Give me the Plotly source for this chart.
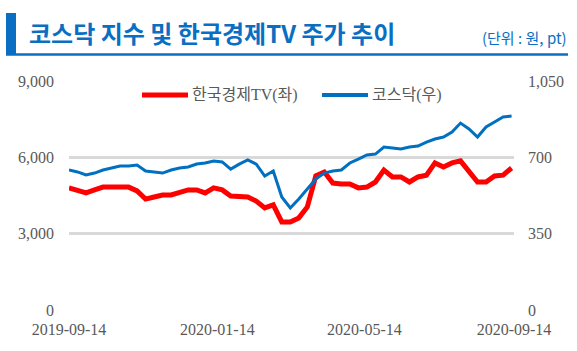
import plotly.graph_objects as go
import pandas as pd

dates = pd.date_range("2019-09-14", periods=53, freq="7D")

hktv = [4800, 4720, 4600, 4720, 4830, 4830, 4830, 4830, 4680, 4360,
        4440, 4520, 4520, 4640, 4720, 4720, 4600, 4800, 4720, 4480,
        4440, 4440, 4280, 4010, 4130, 3460, 3460, 3620, 4050, 5270,
        5420, 4990, 4950, 4950, 4800, 4830, 5030, 5500, 5230, 5230,
        5030, 5230, 5300, 5780, 5620, 5780, 5860, 5420, 5030, 5030,
        5270, 5300, 5580]

kosdaq = [642, 633, 619, 628, 642, 651, 660, 660, 665, 637,
          633, 628, 642, 651, 656, 669, 674, 683, 679, 646,
          669, 688, 669, 614, 637, 518, 468, 509, 555, 601,
          628, 637, 642, 674, 692, 711, 715, 747, 743, 738,
          747, 752, 770, 784, 793, 816, 857, 830, 793, 839,
          862, 885, 889]

x_ticks = ["2019-09-14", "2020-01-14", "2020-05-14", "2020-09-14"]
left_ticks = [0, 3000, 6000, 9000]
right_ticks = [0, 350, 700, 1050]

title_text = "코스닥 지수 및 한국경제TV 주가 추이"
unit_text = "(단위 : 원, pt)"
legend_names = ["한국경제TV(좌)", "코스닥(우)"]

BLUE = "#0A6EC2"
RED = "#FF0000"
LBLUE = "#0070C0"
GRID = "#D9D9D9"
TICKC = "#595959"
serif = "Liberation Serif, DejaVu Serif, Noto Sans CJK KR"
sans = "Noto Sans CJK KR, Noto Sans"

# plot area in pixels
PL, PR, PT, PB = 69, 514, 81, 310
PW, PH = PR - PL, PB - PT


def px(x):
    return (x - PL) / PW


def py(y):
    return (PB - y) / PH


fig = go.Figure()
fig.add_trace(go.Scatter(x=dates, y=hktv, name=legend_names[0], mode="lines",
                         line=dict(color=RED, width=5), yaxis="y"))
fig.add_trace(go.Scatter(x=dates, y=kosdaq, name=legend_names[1], mode="lines",
                         line=dict(color=LBLUE, width=3), yaxis="y2"))

fig.update_layout(
    width=577, height=351,
    margin=dict(l=PL, r=577 - PR, t=PT, b=351 - PB),
    paper_bgcolor="white", plot_bgcolor="white",
    showlegend=False,
    xaxis=dict(type="date", range=["2019-09-14", "2020-09-14"],
               tickvals=x_ticks, ticktext=x_ticks, showgrid=False,
               showline=False, zeroline=False, ticks="", ticklabelstandoff=8,
               tickfont=dict(family=serif, size=16, color=TICKC)),
    yaxis=dict(range=[0, 9000], tickvals=left_ticks, tickformat=",",
               showgrid=True, gridcolor=GRID, gridwidth=3, zeroline=False,
               showline=False, ticks="", ticklabelstandoff=14,
               tickfont=dict(family=serif, size=16, color=TICKC)),
    yaxis2=dict(range=[0, 1050], tickvals=right_ticks, tickformat=",",
                overlaying="y", side="right", showgrid=False, zeroline=False,
                showline=False, ticks="", ticklabelstandoff=13,
                tickfont=dict(family=serif, size=16, color=TICKC)),
    shapes=[
        dict(type="rect", xref="paper", yref="paper", x0=px(6), x1=px(16),
             y0=py(55), y1=py(13), line=dict(width=0), fillcolor=BLUE),
        dict(type="line", xref="paper", yref="paper", x0=px(6), x1=px(568),
             y0=py(54.5), y1=py(54.5), line=dict(color=BLUE, width=2.5)),
        dict(type="line", xref="paper", yref="paper", x0=px(142), x1=px(188),
             y0=py(95), y1=py(95), line=dict(color=RED, width=5)),
        dict(type="line", xref="paper", yref="paper", x0=px(322), x1=px(368),
             y0=py(95), y1=py(95), line=dict(color=LBLUE, width=4)),
    ],
    annotations=[
        dict(text="<b>" + title_text + "</b>", xref="paper", yref="paper",
             x=px(27), y=py(33), xanchor="left", yanchor="middle",
             showarrow=False, font=dict(family=sans, size=24, color=BLUE)),
        dict(text=unit_text, xref="paper", yref="paper",
             x=px(569), y=py(37), xanchor="right", yanchor="middle",
             showarrow=False, font=dict(family=sans, size=15, color=BLUE)),
        dict(text=legend_names[0], xref="paper", yref="paper",
             x=px(190), y=py(95), xanchor="left", yanchor="middle",
             showarrow=False, font=dict(family=serif, size=16, color=TICKC)),
        dict(text=legend_names[1], xref="paper", yref="paper",
             x=px(370), y=py(95), xanchor="left", yanchor="middle",
             showarrow=False, font=dict(family=serif, size=16, color=TICKC)),
    ],
)

fig.write_html("out.html")
